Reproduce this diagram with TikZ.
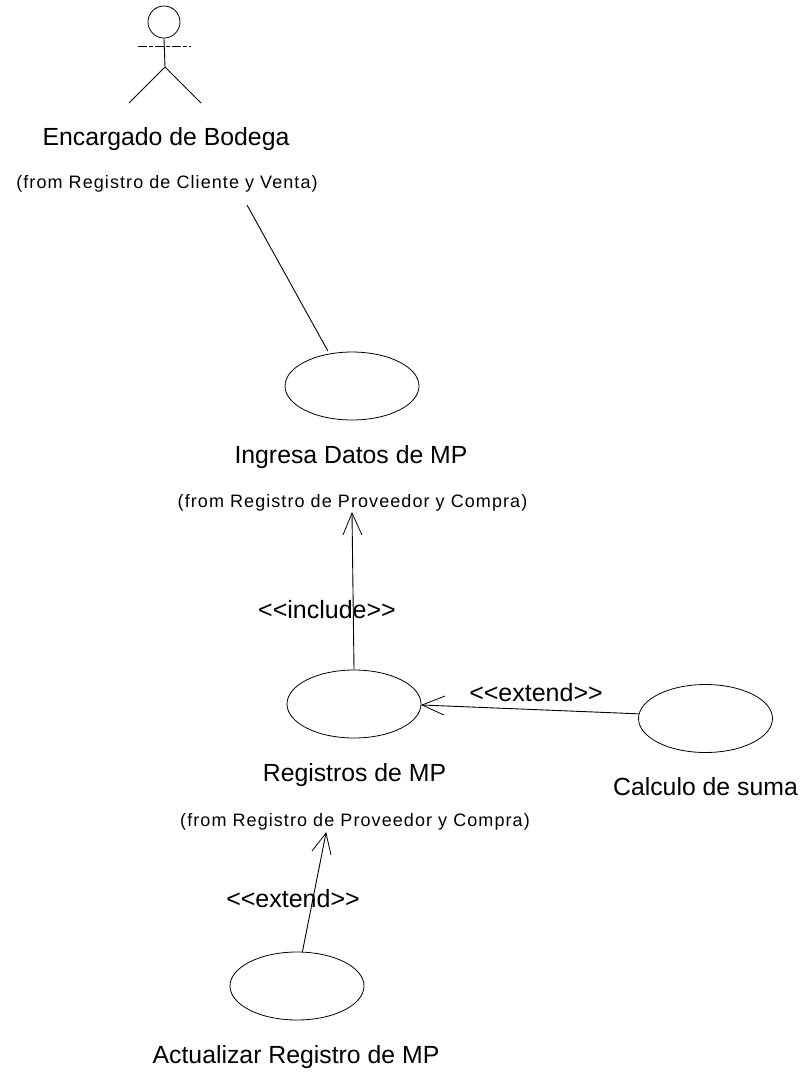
\documentclass[tikz,border=0pt]{standalone}
\usepackage{fontspec}
\setmainfont{Liberation Sans}
\newcommand{\bigtxt}{\fontsize{24.8}{28}\selectfont}
\newcommand{\smalltxt}{\fontsize{18}{21}\selectfont\addfontfeatures{LetterSpace=6}}
\usetikzlibrary{shapes.geometric}
\tikzset{
  usecase/.style={draw,ellipse,minimum width=134pt,minimum height=68pt,inner sep=0pt,line width=.8pt},
  lbl/.style={inner sep=0pt,anchor=base,font=\bigtxt},
  fromlbl/.style={inner sep=0pt,anchor=base,font=\smalltxt},
  conn/.style={line width=.9pt},
  barb/.style={line width=.8pt}
}
\begin{document}
\begin{tikzpicture}[x=1pt,y=-1pt]
\useasboundingbox (0,0) rectangle (805,1072);
% actor
\node[draw,circle,minimum size=32pt,inner sep=0pt,line width=.8pt] (head) at (164,22) {};
\coordinate (hip) at (165,67);
\coordinate (armL) at (138,46);
\coordinate (armR) at (191,46);
\coordinate (legL) at (129,103);
\coordinate (legR) at (201,103);
\draw[conn] (head.south) -- (hip) -- (legL);
\draw[conn] (hip) -- (legR);
\draw[line width=.8pt,dash pattern=on 9pt off 2pt on 4pt off 2pt] (armL) -- (armR);
% use cases
\node[usecase] (ingresa) at (352,386) {};
\node[usecase] (registros) at (354,704) {};
\node[usecase] (calculo) at (705.5,718.5) {};
\node[usecase] (actualizar) at (297,986) {};
% labels
\node[lbl] (t1) at (166,145) {Encargado de Bodega};
\node[fromlbl] (f1) at (167,188) {(from Registro de Cliente y Venta)};
\node[lbl] (t2) at (351,463) {Ingresa Datos de MP};
\node[fromlbl] (f2) at (352.5,507) {(from Registro de Proveedor y Compra)};
\node[lbl] (t3) at (354.5,781) {Registros de MP};
\node[fromlbl] (f3) at (355,826) {(from Registro de Proveedor y Compra)};
\node[lbl] (t4) at (705.5,795) {Calculo de suma};
\node[lbl] (t5) at (296,1063) {Actualizar Registro de MP};
\node[lbl,font=\fontsize{25}{28}\selectfont] (s1) at (327,618) {<{}<include>{}>};
\node[lbl,font=\fontsize{25}{28}\selectfont] (s2) at (536,701) {<{}<extend>{}>};
\node[lbl,font=\fontsize{25}{28}\selectfont] (s3) at (293,907) {<{}<extend>{}>};
% connectors
\coordinate (a0) at (247,205);
\draw[conn,shorten >=3pt] (a0) -- (ingresa.125);
\coordinate (tip1) at (352,513);
\coordinate (tip2) at (422,705);
\coordinate (tip3) at (326,833);
\draw[conn] (registros.north) -- (tip1);
\draw[barb] (343,535) -- (tip1) -- (362,535);
\draw[conn] (calculo.176) -- (tip2);
\draw[barb] (445,696) -- (tip2) -- (444,715);
\draw[conn] (actualizar.81) -- (tip3);
\draw[barb] (312,851) -- (tip3) -- (331,855);
\end{tikzpicture}
\end{document}
